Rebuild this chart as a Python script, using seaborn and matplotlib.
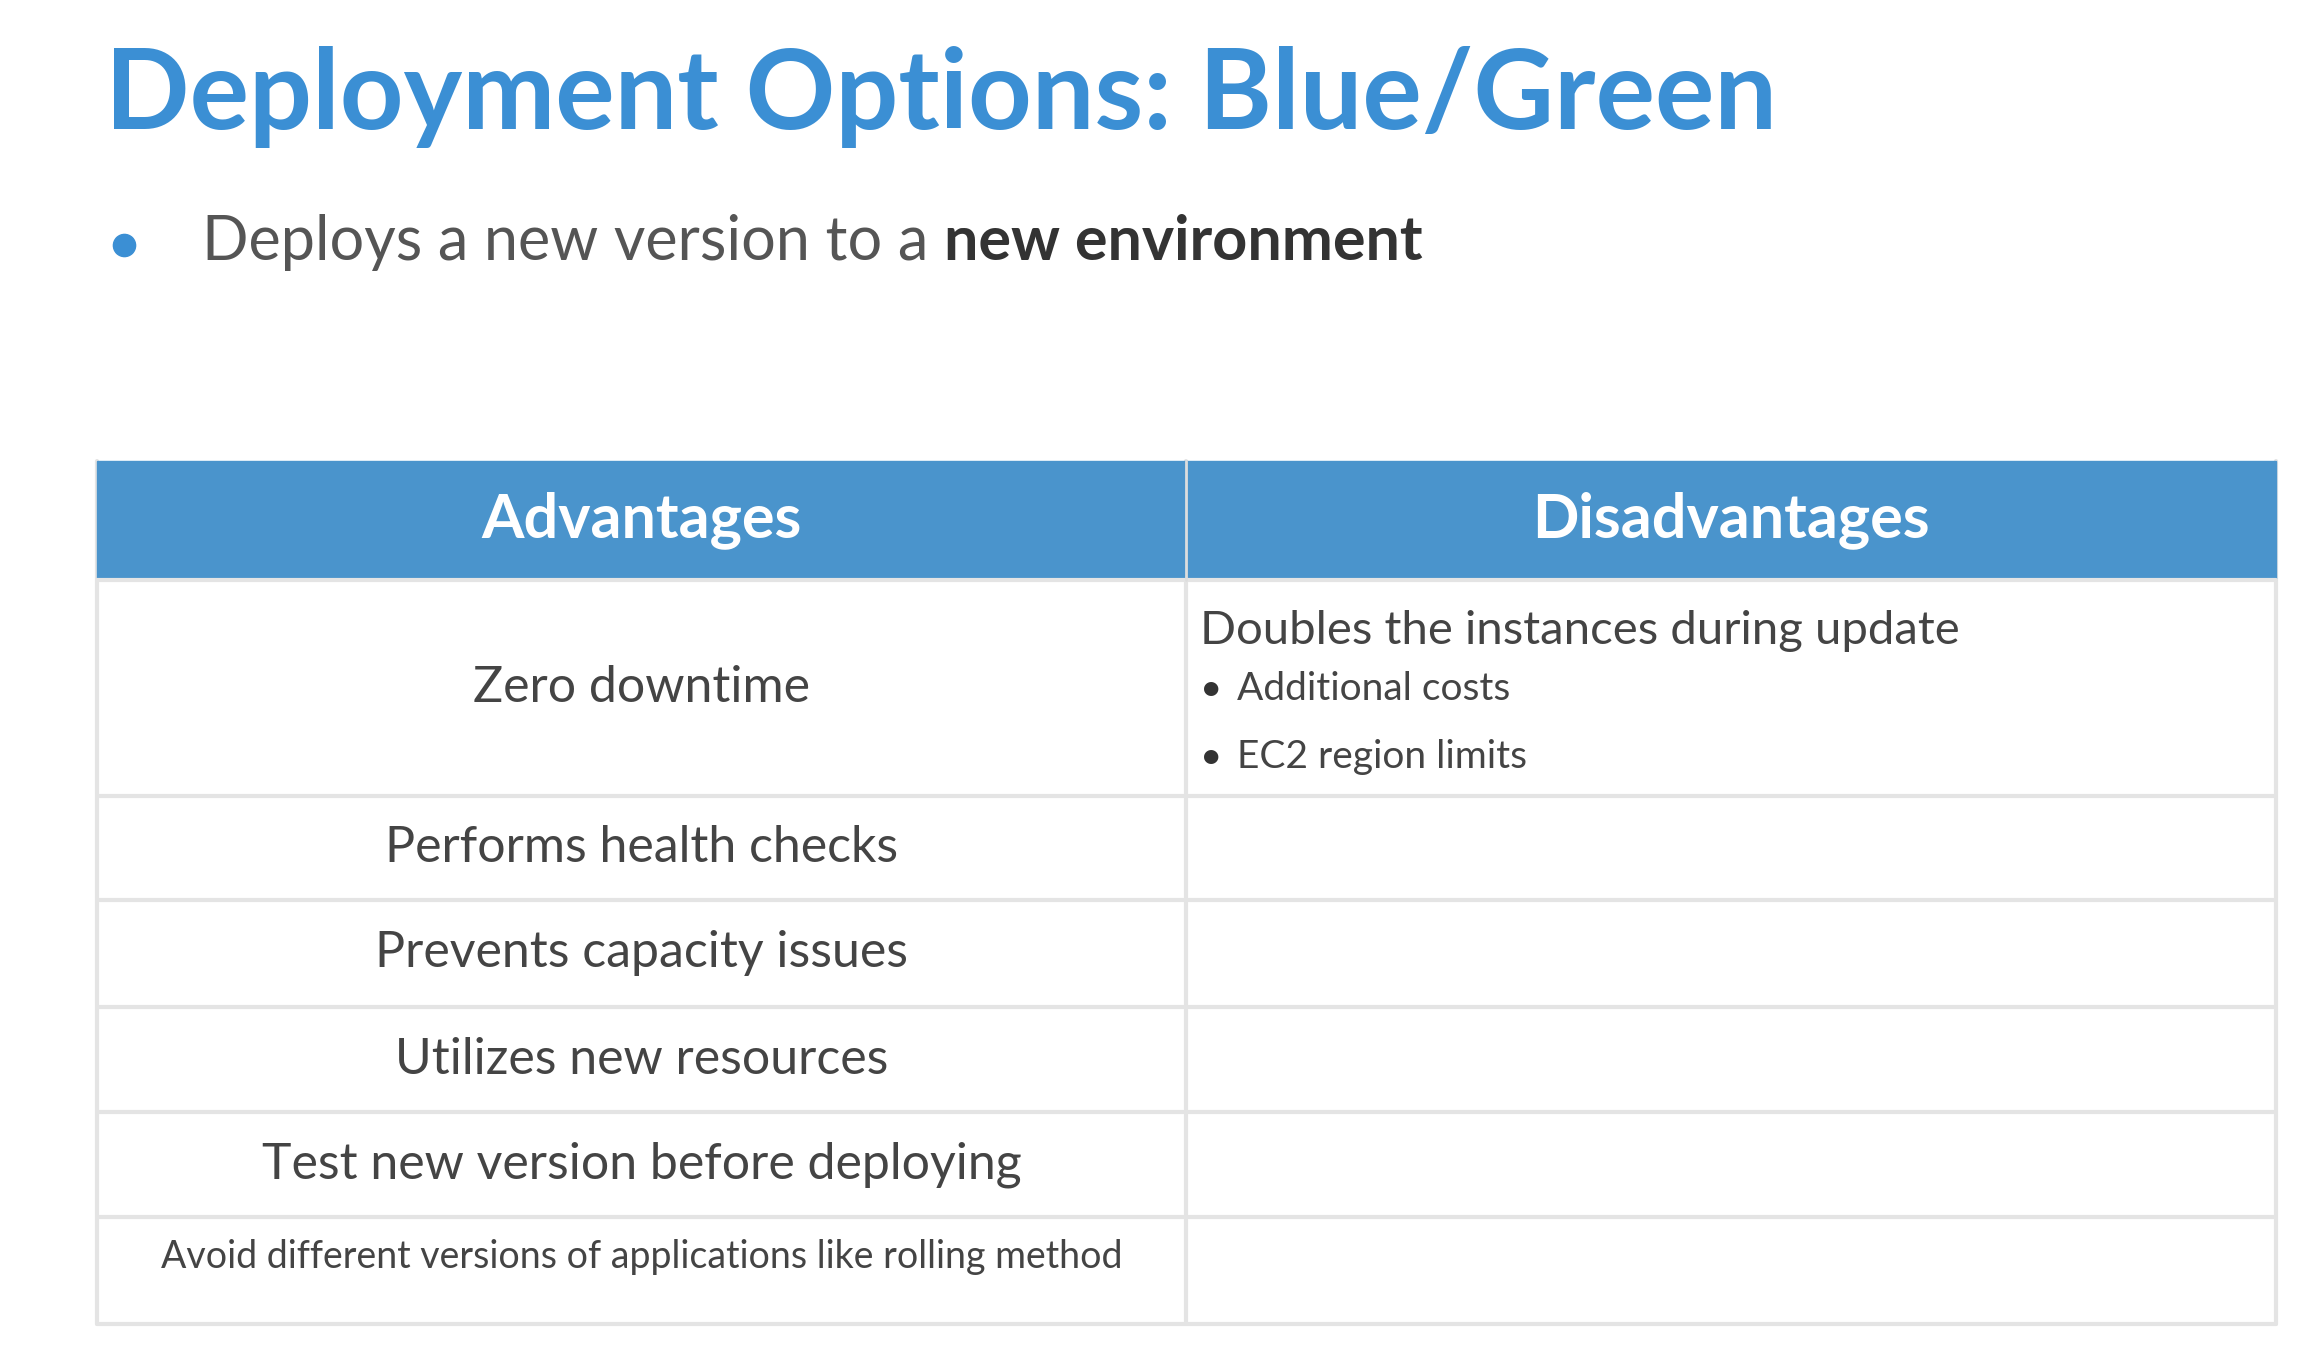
import matplotlib
matplotlib.use("Agg")
import matplotlib.pyplot as plt
import seaborn as sns
from matplotlib.patches import Rectangle

title = "Deployment Options: Blue/Green"
bullet_plain = "Deploys a new version to a "
bullet_bold = "new environment"
headers = ["Advantages", "Disadvantages"]
advantages = ["Zero downtime", "Performs health checks", "Prevents capacity issues",
              "Utilizes new resources", "Test new version before deploying",
              "Avoid different versions of applications like rolling method"]
disadvantage_main = "Doubles the instances during update"
disadvantage_subs = ["Additional costs", "EC2 region limits"]

sns.set_theme(style="white")
plt.rcParams['font.family'] = ['Lato', 'DejaVu Sans']

S = 2316 / 1550
fig = plt.figure(figsize=(23.16, 13.46), dpi=100)
ax = fig.add_axes([0, 0, 1, 1])
ax.set_xlim(0, 1550)
ax.set_ylim(905, 0)
ax.axis("off")

blue = "#4a94cc"
ax.text(70, 65, title, fontsize=80, fontweight="bold", color="#3b8fd4", va="center", ha="left")
ax.plot([83], [165], "o", color="#3b8fd4", markersize=16)
t = ax.text(135, 163, bullet_plain, fontsize=44, color="#555555", va="center", ha="left")
fig.canvas.draw()
bb = t.get_window_extent()
x_end = ax.transData.inverted().transform((bb.x1, bb.y0))[0]
ax.text(x_end, 163, bullet_bold, fontsize=44, fontweight="bold", color="#333333", va="center", ha="left")

x0, xm, x1 = 65, 794, 1523
rows = [310, 390, 535, 605, 677, 748, 818, 890]
ax.add_patch(Rectangle((x0, rows[0]), x1 - x0, rows[1] - rows[0], color=blue, zorder=1))
for i, h in enumerate(headers):
    cx = (x0 + xm) / 2 if i == 0 else (xm + x1) / 2
    ax.text(cx, 350, h, fontsize=44, fontweight="bold", color="white", ha="center", va="center")
line = "#e4e4e4"
for y in rows[1:]:
    ax.plot([x0, x1], [y, y], color=line, lw=3, zorder=2)
for x in [x0, xm, x1]:
    ax.plot([x, x], [rows[0], rows[-1]], color=line, lw=3, zorder=0)
ax.plot([xm, xm], [rows[0], rows[1]], color="#dddddd", lw=2, zorder=2)

for i, a in enumerate(advantages):
    yc = (rows[i + 1] + rows[i + 2]) / 2
    if i == len(advantages) - 1:
        ax.text((x0 + xm) / 2, 845, a, fontsize=27, color="#444444", ha="center", va="center")
    else:
        ax.text((x0 + xm) / 2, yc, a, fontsize=36, color="#444444", ha="center", va="center")

ax.text(803, 424, disadvantage_main, fontsize=34, color="#444444", ha="left", va="center")
for j, s in enumerate(disadvantage_subs):
    y = 463 + j * 46
    ax.text(803, y, "•", fontsize=28, color="#333333", ha="left", va="center")
    ax.text(828, y, s, fontsize=28, color="#444444", ha="left", va="center")

fig.savefig("out.png", dpi=100, facecolor="white")
